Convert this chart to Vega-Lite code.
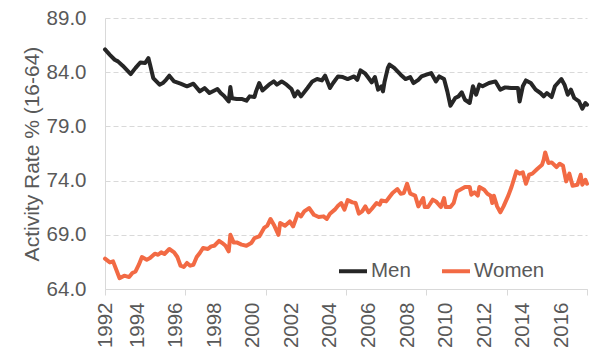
{
  "$schema": "https://vega.github.io/schema/vega-lite/v6.json",
  "width": 482,
  "height": 271,
  "autosize": {"type": "none"},
  "padding": {"left": 105, "top": 18, "right": 8, "bottom": 68},
  "config": {
    "view": {"stroke": null},
    "font": "Liberation Sans"
  },
  "data": {"values": [
    {"d":"1992-05","s":"Men","v":86.1},{"d":"1992-08","s":"Men","v":85.6},{"d":"1992-11","s":"Men","v":85.15},{"d":"1993-01","s":"Men","v":85.0},{"d":"1993-04","s":"Men","v":84.6},{"d":"1993-09","s":"Men","v":83.83},{"d":"1993-12","s":"Men","v":84.4},{"d":"1994-03","s":"Men","v":84.9},{"d":"1994-06","s":"Men","v":84.85},{"d":"1994-08","s":"Men","v":85.3},{"d":"1994-09","s":"Men","v":84.7},{"d":"1994-11","s":"Men","v":83.46},{"d":"1995-03","s":"Men","v":82.85},{"d":"1995-05","s":"Men","v":83.0},{"d":"1995-07","s":"Men","v":83.3},{"d":"1995-09","s":"Men","v":83.68},{"d":"1995-12","s":"Men","v":83.15},{"d":"1996-04","s":"Men","v":82.94},{"d":"1996-08","s":"Men","v":82.7},{"d":"1996-12","s":"Men","v":82.94},{"d":"1997-04","s":"Men","v":82.23},{"d":"1997-07","s":"Men","v":82.54},{"d":"1997-10","s":"Men","v":82.08},{"d":"1998-03","s":"Men","v":82.45},{"d":"1998-05","s":"Men","v":82.08},{"d":"1998-07","s":"Men","v":81.83},{"d":"1998-10","s":"Men","v":81.3},{"d":"1998-11","s":"Men","v":82.63},{"d":"1998-12","s":"Men","v":81.6},{"d":"1999-03","s":"Men","v":81.53},{"d":"1999-06","s":"Men","v":81.53},{"d":"1999-09","s":"Men","v":81.37},{"d":"1999-11","s":"Men","v":81.77},{"d":"2000-02","s":"Men","v":81.71},{"d":"2000-03","s":"Men","v":82.23},{"d":"2000-05","s":"Men","v":83.0},{"d":"2000-07","s":"Men","v":82.32},{"d":"2000-11","s":"Men","v":82.85},{"d":"2001-02","s":"Men","v":83.15},{"d":"2001-04","s":"Men","v":82.85},{"d":"2001-07","s":"Men","v":83.15},{"d":"2001-10","s":"Men","v":82.85},{"d":"2002-01","s":"Men","v":82.45},{"d":"2002-03","s":"Men","v":81.77},{"d":"2002-05","s":"Men","v":82.23},{"d":"2002-07","s":"Men","v":81.77},{"d":"2002-11","s":"Men","v":82.54},{"d":"2003-02","s":"Men","v":83.15},{"d":"2003-05","s":"Men","v":83.37},{"d":"2003-08","s":"Men","v":83.24},{"d":"2003-10","s":"Men","v":83.68},{"d":"2004-01","s":"Men","v":82.54},{"d":"2004-03","s":"Men","v":83.0},{"d":"2004-06","s":"Men","v":83.61},{"d":"2004-09","s":"Men","v":83.55},{"d":"2004-12","s":"Men","v":83.37},{"d":"2005-04","s":"Men","v":83.61},{"d":"2005-06","s":"Men","v":83.3},{"d":"2005-08","s":"Men","v":84.17},{"d":"2005-11","s":"Men","v":83.86},{"d":"2006-01","s":"Men","v":83.46},{"d":"2006-03","s":"Men","v":83.06},{"d":"2006-05","s":"Men","v":83.55},{"d":"2006-07","s":"Men","v":82.39},{"d":"2006-09","s":"Men","v":82.7},{"d":"2006-10","s":"Men","v":82.23},{"d":"2006-11","s":"Men","v":83.15},{"d":"2007-01","s":"Men","v":84.39},{"d":"2007-02","s":"Men","v":84.7},{"d":"2007-05","s":"Men","v":84.39},{"d":"2007-09","s":"Men","v":83.77},{"d":"2007-12","s":"Men","v":83.37},{"d":"2008-03","s":"Men","v":83.55},{"d":"2008-05","s":"Men","v":83.0},{"d":"2008-08","s":"Men","v":83.3},{"d":"2008-10","s":"Men","v":83.61},{"d":"2009-01","s":"Men","v":83.77},{"d":"2009-04","s":"Men","v":83.92},{"d":"2009-07","s":"Men","v":83.15},{"d":"2009-09","s":"Men","v":83.61},{"d":"2009-12","s":"Men","v":83.37},{"d":"2010-02","s":"Men","v":82.23},{"d":"2010-04","s":"Men","v":80.9},{"d":"2010-07","s":"Men","v":81.62},{"d":"2010-09","s":"Men","v":81.77},{"d":"2010-11","s":"Men","v":82.14},{"d":"2011-01","s":"Men","v":81.46},{"d":"2011-04","s":"Men","v":81.16},{"d":"2011-06","s":"Men","v":82.7},{"d":"2011-08","s":"Men","v":81.92},{"d":"2011-10","s":"Men","v":82.85},{"d":"2011-12","s":"Men","v":82.7},{"d":"2012-04","s":"Men","v":83.0},{"d":"2012-08","s":"Men","v":83.15},{"d":"2012-11","s":"Men","v":82.39},{"d":"2013-02","s":"Men","v":82.6},{"d":"2013-06","s":"Men","v":82.54},{"d":"2013-10","s":"Men","v":82.54},{"d":"2013-11","s":"Men","v":81.3},{"d":"2014-01","s":"Men","v":82.7},{"d":"2014-03","s":"Men","v":83.24},{"d":"2014-06","s":"Men","v":83.0},{"d":"2014-09","s":"Men","v":82.39},{"d":"2014-12","s":"Men","v":82.08},{"d":"2015-02","s":"Men","v":81.77},{"d":"2015-04","s":"Men","v":82.08},{"d":"2015-07","s":"Men","v":81.71},{"d":"2015-09","s":"Men","v":82.7},{"d":"2016-01","s":"Men","v":83.37},{"d":"2016-03","s":"Men","v":82.85},{"d":"2016-05","s":"Men","v":81.92},{"d":"2016-07","s":"Men","v":82.39},{"d":"2016-09","s":"Men","v":81.62},{"d":"2016-12","s":"Men","v":81.3},{"d":"2017-02","s":"Men","v":80.63},{"d":"2017-04","s":"Men","v":81.16},{"d":"2017-05","s":"Men","v":81.0},
    {"d":"1992-05","s":"Women","v":66.8},{"d":"1992-08","s":"Women","v":66.45},{"d":"1992-10","s":"Women","v":66.55},{"d":"1992-12","s":"Women","v":65.78},{"d":"1993-02","s":"Women","v":65.0},{"d":"1993-05","s":"Women","v":65.23},{"d":"1993-08","s":"Women","v":65.1},{"d":"1993-10","s":"Women","v":65.47},{"d":"1993-12","s":"Women","v":65.62},{"d":"1994-02","s":"Women","v":66.24},{"d":"1994-04","s":"Women","v":66.95},{"d":"1994-07","s":"Women","v":66.7},{"d":"1994-09","s":"Women","v":66.86},{"d":"1994-12","s":"Women","v":67.26},{"d":"1995-02","s":"Women","v":67.16},{"d":"1995-04","s":"Women","v":67.38},{"d":"1995-06","s":"Women","v":67.23},{"d":"1995-09","s":"Women","v":67.69},{"d":"1995-12","s":"Women","v":67.38},{"d":"1996-02","s":"Women","v":66.95},{"d":"1996-04","s":"Women","v":66.15},{"d":"1996-06","s":"Women","v":66.03},{"d":"1996-08","s":"Women","v":66.4},{"d":"1996-10","s":"Women","v":66.15},{"d":"1996-12","s":"Women","v":66.24},{"d":"1997-02","s":"Women","v":66.95},{"d":"1997-04","s":"Women","v":67.32},{"d":"1997-06","s":"Women","v":67.78},{"d":"1997-09","s":"Women","v":67.69},{"d":"1997-11","s":"Women","v":67.93},{"d":"1998-01","s":"Women","v":67.99},{"d":"1998-04","s":"Women","v":68.45},{"d":"1998-06","s":"Women","v":68.24},{"d":"1998-08","s":"Women","v":67.99},{"d":"1998-10","s":"Women","v":67.47},{"d":"1998-11","s":"Women","v":69.0},{"d":"1999-01","s":"Women","v":68.3},{"d":"1999-03","s":"Women","v":68.3},{"d":"1999-06","s":"Women","v":68.09},{"d":"1999-09","s":"Women","v":67.99},{"d":"1999-12","s":"Women","v":68.24},{"d":"2000-02","s":"Women","v":68.7},{"d":"2000-05","s":"Women","v":68.85},{"d":"2000-08","s":"Women","v":69.63},{"d":"2000-10","s":"Women","v":69.84},{"d":"2000-12","s":"Women","v":70.46},{"d":"2001-02","s":"Women","v":69.93},{"d":"2001-05","s":"Women","v":69.0},{"d":"2001-06","s":"Women","v":70.09},{"d":"2001-09","s":"Women","v":69.84},{"d":"2001-12","s":"Women","v":70.23},{"d":"2002-02","s":"Women","v":69.77},{"d":"2002-05","s":"Women","v":70.95},{"d":"2002-07","s":"Women","v":70.7},{"d":"2002-09","s":"Women","v":71.16},{"d":"2002-12","s":"Women","v":71.47},{"d":"2003-03","s":"Women","v":70.85},{"d":"2003-06","s":"Women","v":70.64},{"d":"2003-09","s":"Women","v":70.7},{"d":"2003-11","s":"Women","v":70.46},{"d":"2004-01","s":"Women","v":70.95},{"d":"2004-04","s":"Women","v":71.32},{"d":"2004-06","s":"Women","v":71.68},{"d":"2004-08","s":"Women","v":71.93},{"d":"2004-10","s":"Women","v":71.32},{"d":"2004-12","s":"Women","v":72.2},{"d":"2005-03","s":"Women","v":71.99},{"d":"2005-05","s":"Women","v":71.93},{"d":"2005-07","s":"Women","v":70.95},{"d":"2005-09","s":"Women","v":71.16},{"d":"2005-11","s":"Women","v":71.62},{"d":"2006-01","s":"Women","v":71.07},{"d":"2006-03","s":"Women","v":71.38},{"d":"2006-06","s":"Women","v":71.93},{"d":"2006-08","s":"Women","v":71.78},{"d":"2006-09","s":"Women","v":72.17},{"d":"2006-12","s":"Women","v":72.08},{"d":"2007-02","s":"Women","v":72.49},{"d":"2007-04","s":"Women","v":72.86},{"d":"2007-07","s":"Women","v":73.22},{"d":"2007-09","s":"Women","v":72.79},{"d":"2007-11","s":"Women","v":72.86},{"d":"2008-01","s":"Women","v":73.71},{"d":"2008-03","s":"Women","v":72.79},{"d":"2008-06","s":"Women","v":72.61},{"d":"2008-08","s":"Women","v":71.62},{"d":"2008-11","s":"Women","v":72.39},{"d":"2008-12","s":"Women","v":71.56},{"d":"2009-02","s":"Women","v":71.56},{"d":"2009-05","s":"Women","v":72.24},{"d":"2009-07","s":"Women","v":72.08},{"d":"2009-10","s":"Women","v":71.56},{"d":"2009-12","s":"Women","v":72.39},{"d":"2010-01","s":"Women","v":71.56},{"d":"2010-04","s":"Women","v":71.56},{"d":"2010-06","s":"Women","v":71.93},{"d":"2010-08","s":"Women","v":73.0},{"d":"2010-10","s":"Women","v":73.16},{"d":"2011-01","s":"Women","v":73.41},{"d":"2011-04","s":"Women","v":73.41},{"d":"2011-05","s":"Women","v":72.7},{"d":"2011-07","s":"Women","v":72.91},{"d":"2011-09","s":"Women","v":72.61},{"d":"2011-10","s":"Women","v":73.41},{"d":"2012-01","s":"Women","v":73.16},{"d":"2012-03","s":"Women","v":72.79},{"d":"2012-05","s":"Women","v":72.61},{"d":"2012-06","s":"Women","v":71.93},{"d":"2012-07","s":"Women","v":72.61},{"d":"2012-09","s":"Women","v":71.62},{"d":"2012-11","s":"Women","v":71.07},{"d":"2013-01","s":"Women","v":71.62},{"d":"2013-04","s":"Women","v":72.61},{"d":"2013-06","s":"Women","v":73.41},{"d":"2013-09","s":"Women","v":74.85},{"d":"2013-11","s":"Women","v":74.64},{"d":"2014-01","s":"Women","v":74.76},{"d":"2014-03","s":"Women","v":73.71},{"d":"2014-05","s":"Women","v":74.54},{"d":"2014-07","s":"Women","v":74.64},{"d":"2014-10","s":"Women","v":75.07},{"d":"2015-01","s":"Women","v":75.47},{"d":"2015-02","s":"Women","v":75.93},{"d":"2015-03","s":"Women","v":76.6},{"d":"2015-05","s":"Women","v":75.62},{"d":"2015-07","s":"Women","v":75.68},{"d":"2015-10","s":"Women","v":75.25},{"d":"2015-12","s":"Women","v":75.56},{"d":"2016-02","s":"Women","v":75.37},{"d":"2016-04","s":"Women","v":73.93},{"d":"2016-06","s":"Women","v":74.64},{"d":"2016-08","s":"Women","v":73.53},{"d":"2016-11","s":"Women","v":73.62},{"d":"2017-01","s":"Women","v":74.54},{"d":"2017-02","s":"Women","v":73.62},{"d":"2017-04","s":"Women","v":74.08},{"d":"2017-05","s":"Women","v":73.71}
  ]},
  "layer": [
    {
      "transform": [{"filter": "datum.s === 'Men'"}],
      "mark": {"type": "line", "strokeWidth": 4, "strokeJoin": "round", "strokeCap": "round"},
      "encoding": {
        "x": {
          "field": "d", "type": "temporal",
          "scale": {"type": "utc", "domain": [{"year": 1992, "month": 5, "date": 1, "utc": true}, {"year": 2017, "month": 5, "date": 1, "utc": true}]},
          "axis": {
            "title": null, "format": "%Y", "labelAngle": -90, "labelAlign": "right", "labelBaseline": "middle",
            "ticks": false, "tickSize": 0, "labelPadding": 13, "grid": false, "labelFlush": false, "labelOverlap": false,
            "domainColor": "#d9d9d9", "labelFontSize": 20.5, "labelColor": "#595959",
            "values": [
              {"year": 1992, "month": 5, "date": 1, "utc": true},
              {"year": 1994, "month": 1, "date": 1, "utc": true},
              {"year": 1996, "month": 1, "date": 1, "utc": true},
              {"year": 1998, "month": 1, "date": 1, "utc": true},
              {"year": 2000, "month": 1, "date": 1, "utc": true},
              {"year": 2002, "month": 1, "date": 1, "utc": true},
              {"year": 2004, "month": 1, "date": 1, "utc": true},
              {"year": 2006, "month": 1, "date": 1, "utc": true},
              {"year": 2008, "month": 1, "date": 1, "utc": true},
              {"year": 2010, "month": 1, "date": 1, "utc": true},
              {"year": 2012, "month": 1, "date": 1, "utc": true},
              {"year": 2014, "month": 1, "date": 1, "utc": true},
              {"year": 2016, "month": 1, "date": 1, "utc": true}
            ]
          }
        },
        "y": {
          "field": "v", "type": "quantitative",
          "scale": {"domain": [64, 89], "nice": false, "zero": false},
          "axis": {
            "title": "Activity Rate % (16-64)", "values": [64, 69, 74, 79, 84, 89], "format": ".1f",
            "ticks": false, "labelPadding": 19, "gridColor": "#d9d9d9", "gridDash": [5, 3],
            "domainColor": "#d9d9d9", "labelFontSize": 20.5, "labelColor": "#595959", "labelFlush": false,
            "titleFontSize": 21, "titleFontWeight": "normal", "titleColor": "#595959", "titlePadding": 4
          }
        },
        "color": {
          "field": "s", "type": "nominal",
          "scale": {"domain": ["Men", "Women"], "range": ["#262626", "#f26a44"]},
          "legend": {
            "orient": "none", "legendX": 232, "legendY": 237, "direction": "horizontal", "title": null,
            "symbolType": "stroke", "symbolStrokeWidth": 4, "symbolSize": 784,
            "labelFontSize": 20.5, "labelColor": "#595959", "labelOffset": 2, "columnPadding": 23, "padding": 0
          }
        }
      }
    },
    {
      "transform": [{"filter": "datum.s === 'Women'"}],
      "mark": {"type": "line", "strokeWidth": 4, "strokeJoin": "round", "strokeCap": "round"},
      "encoding": {
        "x": {
          "field": "d", "type": "temporal",
          "axis": {
            "orient": "bottom", "title": null, "labels": false, "domain": false, "grid": false,
            "ticks": true, "tickSize": 6, "tickColor": "#d9d9d9",
            "values": [
              {"year": 1992, "month": 5, "date": 1, "utc": true},
              {"year": 1996, "month": 7, "date": 1, "utc": true},
              {"year": 2000, "month": 9, "date": 1, "utc": true},
              {"year": 2004, "month": 11, "date": 1, "utc": true},
              {"year": 2009, "month": 1, "date": 1, "utc": true},
              {"year": 2013, "month": 3, "date": 1, "utc": true},
              {"year": 2017, "month": 5, "date": 1, "utc": true}
            ]
          }
        },
        "y": {"field": "v", "type": "quantitative"},
        "color": {"field": "s", "type": "nominal"}
      }
    }
  ],
  "resolve": {"axis": {"x": "independent"}}
}
